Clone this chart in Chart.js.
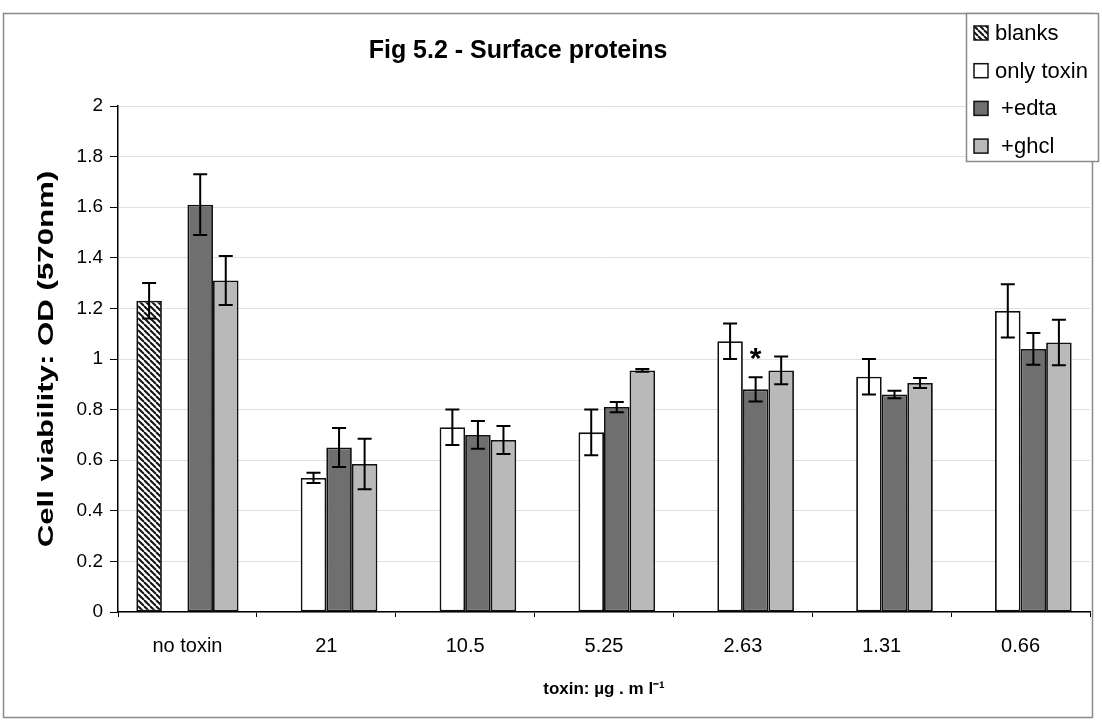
<!DOCTYPE html>
<html>
<head>
<meta charset="utf-8">
<title>Fig 5.2 - Surface proteins</title>
<script src="https://cdn.jsdelivr.net/npm/chart.js@4/dist/chart.umd.min.js"></script>
<style>
  html, body { margin: 0; padding: 0; background: #fff; }
  canvas { display: block; }
</style>
</head>
<body>
<canvas id="chart" width="1102" height="721"></canvas>
<script>
const FONT = "'Liberation Sans', Arial, sans-serif";

const categories = ['no toxin', '21', '10.5', '5.25', '2.63', '1.31', '0.66'];
const seriesNames = ['blanks', 'only toxin', ' +edta', ' +ghcl'];

// mean OD and error for each condition
const blanks       = [1.23, null, null, null, null, null, null];
const blanksErr    = [0.07, null, null, null, null, null, null];
const onlyToxin    = [null, 0.53, 0.73, 0.71, 1.07, 0.93, 1.19];
const onlyToxinErr = [null, 0.02, 0.07, 0.09, 0.07, 0.07, 0.105];
const edta         = [1.61, 0.65, 0.70, 0.81, 0.88, 0.86, 1.04];
const edtaErr      = [0.12, 0.077, 0.055, 0.02, 0.048, 0.015, 0.063];
const ghcl         = [1.31, 0.585, 0.68, 0.955, 0.955, 0.905, 1.065];
const ghclErr      = [0.097, 0.1, 0.055, 0.005, 0.055, 0.02, 0.09];

const yTickLabels = ['0', '0.2', '0.4', '0.6', '0.8', '1', '1.2', '1.4', '1.6', '1.8', '2'];

// significance marks: category + series index
const marks = [{ category: '2.63', series: 2, text: '*' }];

const chartTitle = 'Fig 5.2 - Surface proteins';
const yTitle = 'Cell viability: OD (570nm)';
const xTitle = 'toxin: \u00b5g . m l\u207b\u00b9';

// diagonal hatch for the blanks bar
function makeHatch() {
  const c = document.createElement('canvas');
  c.width = 6; c.height = 6;
  const g = c.getContext('2d');
  g.fillStyle = '#fff';
  g.fillRect(0, 0, 6, 6);
  g.strokeStyle = '#111';
  g.lineWidth = 2;
  for (let k = -1; k <= 1; k++) {
    g.beginPath();
    g.moveTo(k * 6, 0);
    g.lineTo(k * 6 + 6, 6);
    g.stroke();
  }
  return g.createPattern(c, 'repeat');
}
const hatch = makeHatch();

const errorBars = {
  id: 'errorBars',
  afterDatasetsDraw(chart) {
    const { ctx } = chart;
    const y = chart.scales.y;
    ctx.save();
    ctx.strokeStyle = '#000';
    ctx.lineWidth = 2;
    chart.data.datasets.forEach((ds, i) => {
      chart.getDatasetMeta(i).data.forEach((bar, j) => {
        const v = ds.data[j], e = ds.errors[j];
        if (v == null || e == null) return;
        const top = y.getPixelForValue(v + e);
        const bot = y.getPixelForValue(v - e);
        ctx.beginPath();
        ctx.moveTo(bar.x, top); ctx.lineTo(bar.x, bot);
        ctx.moveTo(bar.x - 7, top); ctx.lineTo(bar.x + 7, top);
        ctx.moveTo(bar.x - 7, bot); ctx.lineTo(bar.x + 7, bot);
        ctx.stroke();
      });
    });
    // asterisk above the marked bar
    ctx.fillStyle = '#000';
    ctx.font = 'bold 30px ' + FONT;
    ctx.textAlign = 'center';
    ctx.textBaseline = 'alphabetic';
    marks.forEach(m => {
      const j = categories.indexOf(m.category);
      const ds = chart.data.datasets[m.series];
      const bar = chart.getDatasetMeta(m.series).data[j];
      const top = y.getPixelForValue(ds.data[j] + ds.errors[j]);
      ctx.fillText(m.text, bar.x, top - 9);
    });
    ctx.restore();
  }
};

const decorations = {
  id: 'decorations',
  beforeDraw(chart) {
    const { ctx } = chart;
    ctx.save();
    ctx.fillStyle = '#fff';
    ctx.fillRect(0, 0, chart.width, chart.height);
    ctx.restore();
  },
  afterDraw(chart) {
    const { ctx, chartArea } = chart;
    ctx.save();
    // outer frame
    ctx.strokeStyle = '#8a8a8a';
    ctx.lineWidth = 1.5;
    ctx.strokeRect(3.5, 13.5, 1089, 704);

    // title
    ctx.fillStyle = '#000';
    ctx.font = 'bold 25px ' + FONT;
    ctx.textAlign = 'center';
    ctx.textBaseline = 'alphabetic';
    ctx.fillText(chartTitle, 518, 58);

    // y axis title, stretched along its length
    ctx.save();
    ctx.translate(47, (chartArea.top + chartArea.bottom) / 2);
    ctx.rotate(-Math.PI / 2);
    ctx.scale(1.42, 1);
    ctx.font = 'bold 22px ' + FONT;
    ctx.textAlign = 'center';
    ctx.textBaseline = 'middle';
    ctx.fillText(yTitle, 0, 0);
    ctx.restore();

    // legend box
    ctx.fillStyle = '#fff';
    ctx.fillRect(966, 13, 133, 149);
    ctx.strokeStyle = '#8a8a8a';
    ctx.strokeRect(966.5, 13.5, 132, 148);
    ctx.font = '22px ' + FONT;
    ctx.textAlign = 'left';
    ctx.textBaseline = 'middle';
    chart.data.datasets.forEach((ds, i) => {
      const cy = 33 + i * 37.7;
      ctx.fillStyle = ds.backgroundColor;
      ctx.fillRect(974, cy - 7, 14, 14);
      ctx.strokeStyle = '#111';
      ctx.lineWidth = 1.5;
      ctx.strokeRect(974, cy - 7, 14, 14);
      ctx.fillStyle = '#000';
      ctx.fillText(ds.label, 995, cy + 1);
    });
    ctx.restore();
  }
};

const makeSet = (i, data, errors, color) => ({
  label: seriesNames[i],
  data: data,
  errors: errors,
  backgroundColor: color,
  borderColor: '#111',
  borderWidth: 1.8,
  borderSkipped: false,
  barPercentage: 1,
  categoryPercentage: 0.736
});

new Chart(document.getElementById('chart'), {
  type: 'bar',
  data: {
    labels: categories,
    datasets: [
      makeSet(0, blanks, blanksErr, hatch),
      makeSet(1, onlyToxin, onlyToxinErr, '#ffffff'),
      makeSet(2, edta, edtaErr, '#6f6f6f'),
      makeSet(3, ghcl, ghclErr, '#b9b9b9')
    ]
  },
  options: {
    responsive: false,
    animation: false,
    devicePixelRatio: 1,
    layout: { padding: { top: 106, right: 12, bottom: 0, left: 0 } },
    plugins: {
      legend: { display: false },
      title: { display: false },
      tooltip: { enabled: false }
    },
    scales: {
      x: {
        grid: { display: true, drawOnChartArea: false, drawTicks: true, tickLength: 5, offset: true, color: '#000' },
        border: { display: true, color: '#000', width: 1.5 },
        ticks: { color: '#000', font: { family: FONT, size: 20 }, padding: 17, maxRotation: 0, autoSkip: false },
        title: { display: true, text: xTitle, color: '#000', font: { family: FONT, size: 17, weight: 'bold' }, padding: { top: 4, bottom: 21 } },
        afterFit(s) { s.height = 109; }
      },
      y: {
        min: 0,
        max: 2,
        ticks: {
          stepSize: 0.2,
          color: '#000',
          font: { family: FONT, size: 19 },
          padding: 7,
          callback: (v, i) => yTickLabels[i]
        },
        grid: { color: '#e0e0e0', tickColor: '#000', tickLength: 8, lineWidth: 1 },
        border: { display: true, color: '#000', width: 1.5 },
        afterFit(s) { s.width = 118; }
      }
    }
  },
  plugins: [decorations, errorBars]
});
</script>
</body>
</html>
